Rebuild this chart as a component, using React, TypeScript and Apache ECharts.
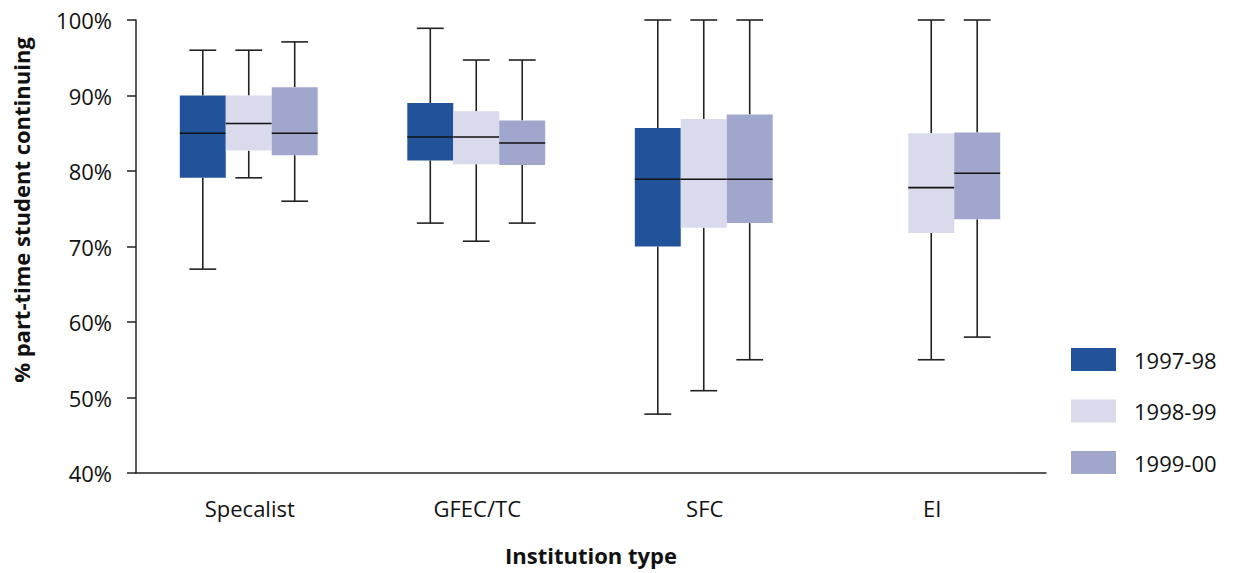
import React, { useEffect, useRef } from "react";
import * as echarts from "echarts";

const categories = ["Specalist", "GFEC/TC", "SFC", "EI"];
const seriesNames = ["1997-98", "1998-99", "1999-00"];
const seriesColors = ["#22529A", "#D9DAEC", "#A0A6CC"];
const yTicks = [40, 50, 60, 70, 80, 90, 100];

// [min, q1, median, q3, max] per category; null = no data
const s1997: (number[] | null)[] = [
  [67.0, 79.1, 85.0, 90.0, 96.0],
  [73.1, 81.4, 84.5, 89.0, 98.9],
  [47.8, 70.0, 78.9, 85.7, 100],
  null,
];
const s1998: (number[] | null)[] = [
  [79.1, 82.7, 86.3, 90.0, 96.0],
  [70.7, 80.9, 84.5, 87.9, 94.7],
  [50.9, 72.5, 78.9, 86.9, 100],
  [55.0, 71.8, 77.8, 85.0, 100],
];
const s1999: (number[] | null)[] = [
  [76.0, 82.1, 85.0, 91.1, 97.1],
  [73.1, 80.8, 83.7, 86.7, 94.7],
  [55.0, 73.1, 78.9, 87.5, 100],
  [58.0, 73.6, 79.7, 85.1, 100],
];
const allSeries = [s1997, s1998, s1999];

export default function App() {
  const ref = useRef<HTMLDivElement>(null);
  useEffect(() => {
    if (!ref.current) return;
    const chart = echarts.init(ref.current, undefined, { renderer: "svg" });
    const font = "'Open Sans', 'Noto Sans', sans-serif";

    const series = allSeries.map((vals, si) => {
      const data: number[][] = [];
      vals.forEach((v, ci) => {
        if (v) data.push([ci, ...v]);
      });
      return {
        type: "custom" as const,
        name: seriesNames[si],
        itemStyle: { color: seriesColors[si] },
        encode: { x: 0, y: [1, 2, 3, 4, 5] },
        data,
        renderItem: (params: any, api: any) => {
          const cat = api.value(0);
          const mn = api.value(1);
          const q1 = api.value(2);
          const md = api.value(3);
          const q3 = api.value(4);
          const mx = api.value(5);
          const band = api.size([1, 0])[0];
          const w = band * 0.202;
          const cap = band * 0.118;
          const base = api.coord([cat, md]);
          const cx = base[0] + (si - 1) * w - 1;
          const yMin = api.coord([cat, mn])[1];
          const yQ1 = api.coord([cat, q1])[1];
          const yMd = base[1];
          const yQ3 = api.coord([cat, q3])[1];
          const yMx = api.coord([cat, mx])[1];
          const lineStyle = { stroke: "#222", lineWidth: 1.6 };
          return {
            type: "group",
            children: [
              { type: "line", shape: { x1: cx, y1: yMx, x2: cx, y2: yQ3 }, style: lineStyle },
              { type: "line", shape: { x1: cx, y1: yQ1, x2: cx, y2: yMin }, style: lineStyle },
              { type: "line", shape: { x1: cx - cap / 2, y1: yMx, x2: cx + cap / 2, y2: yMx }, style: lineStyle },
              { type: "line", shape: { x1: cx - cap / 2, y1: yMin, x2: cx + cap / 2, y2: yMin }, style: lineStyle },
              {
                type: "rect",
                shape: { x: cx - w / 2, y: yQ3, width: w, height: yQ1 - yQ3 },
                style: { fill: seriesColors[si] },
              },
              {
                type: "line",
                shape: { x1: cx - w / 2, y1: yMd, x2: cx + w / 2, y2: yMd },
                style: { stroke: "#111", lineWidth: 1.6 },
              },
            ],
          };
        },
      };
    });

    chart.setOption({
      animation: false,
      textStyle: { fontFamily: font },
      grid: { left: 136, right: 190, top: 20, bottom: 100 },
      legend: {
        orient: "vertical",
        left: 1071,
        top: 348,
        padding: 0,
        itemWidth: 45,
        itemHeight: 23,
        itemGap: 28.5,
        icon: "rect",
        data: seriesNames,
        textStyle: {
          fontSize: 22,
          lineHeight: 23,
          color: "#111",
          fontFamily: font,
          padding: [0, 0, 0, 13],
        },
      },
      xAxis: {
        type: "category",
        data: categories,
        name: "Institution type",
        nameLocation: "middle",
        nameGap: 71,
        nameTextStyle: { fontSize: 22, fontWeight: "bold", color: "#111", fontFamily: font },
        axisLine: { lineStyle: { color: "#222", width: 1.5 } },
        axisTick: { show: false },
        axisLabel: { fontSize: 22, color: "#111", margin: 24, fontFamily: font },
      },
      yAxis: {
        type: "value",
        min: yTicks[0],
        max: yTicks[yTicks.length - 1],
        interval: 10,
        axisLine: { show: true, lineStyle: { color: "#222", width: 1.5 } },
        axisTick: { show: true, length: 9, lineStyle: { color: "#222", width: 1.5 } },
        splitLine: { show: false },
        axisLabel: { fontSize: 22, color: "#111", margin: 24, formatter: "{value}%", fontFamily: font },
      },
      graphic: [
        {
          type: "text",
          x: 21,
          y: 210,
          rotation: Math.PI / 2,
          style: {
            text: "% part-time student continuing",
            fontSize: 22,
            fontWeight: "bold",
            fill: "#111",
            fontFamily: font,
            textAlign: "center",
            textVerticalAlign: "middle",
          },
        },
      ],
      series,
    });
    return () => chart.dispose();
  }, []);
  return (
    <div
      ref={ref}
      style={{ position: "fixed", left: 0, top: 0, width: 1236, height: 573, background: "#fff" }}
    />
  );
}
